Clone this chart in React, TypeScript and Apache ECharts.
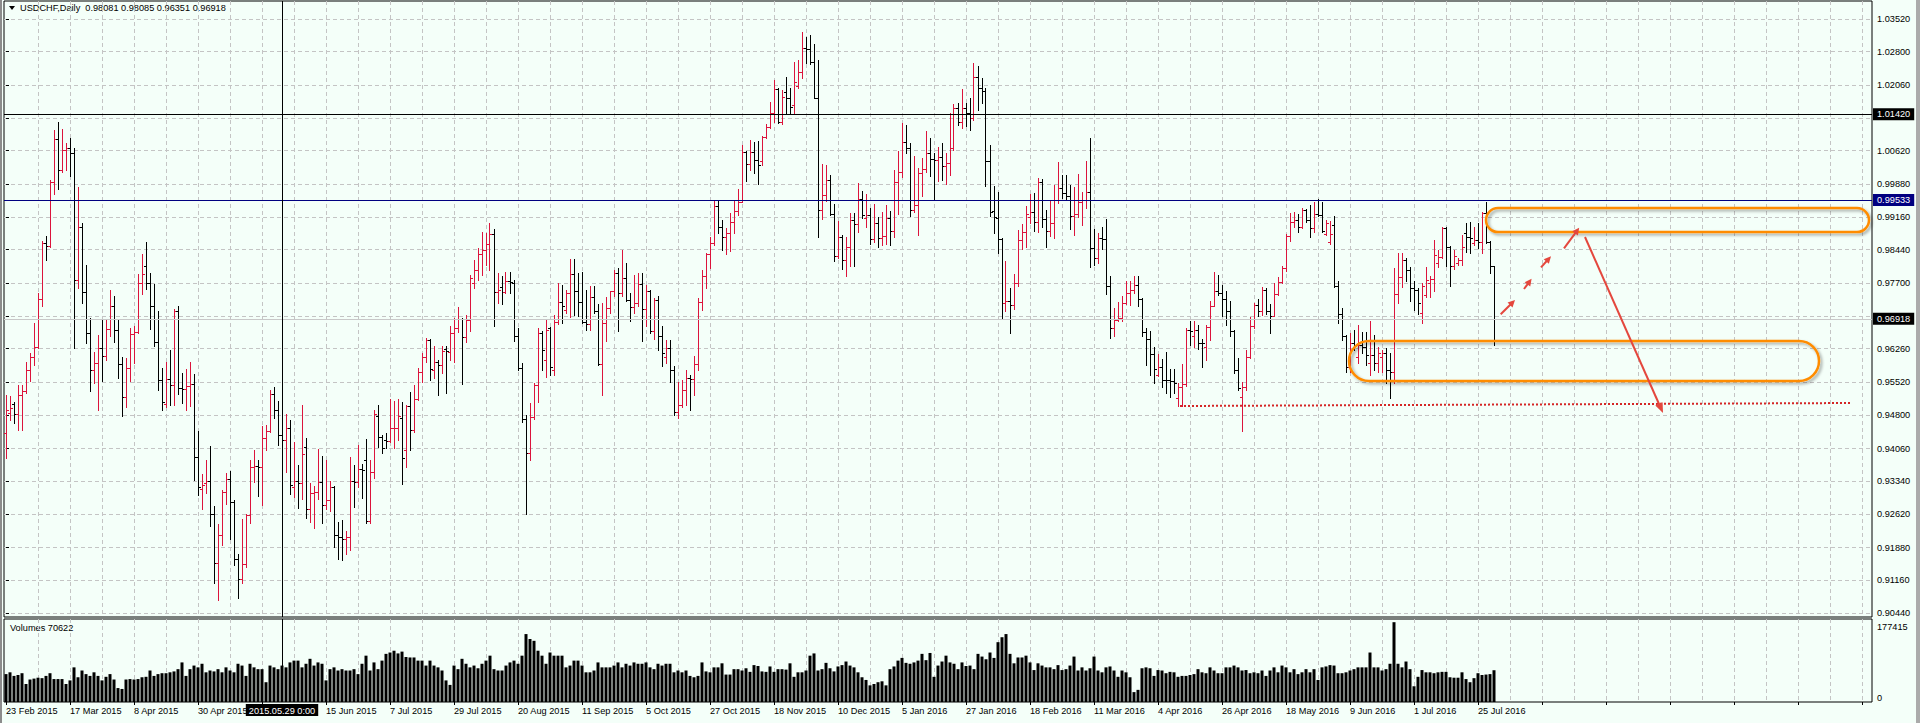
import React, { useEffect, useRef } from 'react';
import * as echarts from 'echarts';

const SYMBOL = 'USDCHF';
const PERIOD = 'Daily';

const OPEN = [
0.9440,0.9484,0.9504,0.9482,0.9524,0.9532,0.9579,0.9608,0.9629,0.9735,
0.9859,0.9853,0.9993,1.0087,1.0019,1.0064,1.0069,1.0058,0.9777,0.9893,
0.9750,0.9660,0.9578,0.9594,0.9627,0.9611,0.9669,0.9719,0.9667,0.9592,
0.9520,0.9583,0.9658,0.9662,0.9770,0.9808,0.9771,0.9719,0.9640,0.9556,
0.9504,0.9559,0.9545,0.9710,0.9539,0.9538,0.9544,0.9548,0.9388,0.9318,
0.9330,0.9335,0.9261,0.9155,0.9216,0.9311,0.9338,0.9288,0.9162,0.9118,
0.9153,0.9260,0.9366,0.9368,0.9366,0.9430,0.9445,0.9526,0.9490,0.9435,
0.9425,0.9452,0.9322,0.9335,0.9331,0.9410,0.9272,0.9308,0.9311,0.9332,
0.9282,0.9293,0.9321,0.9216,0.9212,0.9208,0.9212,0.9335,0.9333,0.9362,
0.9381,0.9247,0.9354,0.9478,0.9432,0.9425,0.9423,0.9451,0.9452,0.9473,
0.9404,0.9500,0.9446,0.9515,0.9575,0.9608,0.9645,0.9578,0.9596,0.9589,
0.9625,0.9619,0.9660,0.9671,0.9691,0.9652,0.9689,0.9770,0.9800,0.9834,
0.9844,0.9856,0.9878,0.9750,0.9761,0.9751,0.9775,0.9770,0.9653,0.9583,
0.9472,0.9396,0.9476,0.9546,0.9660,0.9601,0.9671,0.9579,0.9685,0.9729,
0.9711,0.9748,0.9790,0.9752,0.9729,0.9685,0.9680,0.9740,0.9708,0.9592,
0.9682,0.9715,0.9752,0.9793,0.9748,0.9781,0.9733,0.9717,0.9727,0.9768,
0.9713,0.9754,0.9664,0.9733,0.9654,0.9608,0.9627,0.9578,0.9487,0.9502,
0.9534,0.9561,0.9559,0.9592,0.9729,0.9785,0.9834,0.9858,0.9940,0.9893,
0.9873,0.9880,0.9906,0.9930,0.9950,1.0060,1.0033,1.0060,1.0042,1.0039,
1.0093,1.0115,1.0144,1.0198,1.0125,1.0192,1.0177,1.0163,1.0205,1.0235,
1.0289,1.0286,1.0257,1.0179,0.9931,0.9965,0.9998,0.9922,0.9831,0.9871,
0.9821,0.9849,0.9909,0.9900,0.9955,0.9913,0.9920,0.9867,0.9902,0.9869,
0.9874,0.9913,0.9885,0.9994,1.0016,1.0082,1.0069,0.9931,0.9942,1.0012,
1.0022,1.0056,1.0044,1.0041,1.0049,1.0029,1.0034,1.0069,1.0157,1.0125,
1.0157,1.0146,1.0135,1.0225,1.0201,1.0193,1.0039,0.9929,0.9913,0.9867,
0.9726,0.9732,0.9722,0.9771,0.9865,0.9884,0.9917,0.9926,0.9906,0.9992,
0.9911,0.9885,0.9902,0.9953,0.9979,0.9968,0.9962,0.9918,0.9922,0.9950,
0.9954,0.9970,0.9847,0.9825,0.9869,0.9867,0.9765,0.9672,0.9689,0.9693,
0.9726,0.9749,0.9755,0.9766,0.9735,0.9662,0.9647,0.9614,0.9568,0.9585,
0.9557,0.9556,0.9555,0.9517,0.9541,0.9548,0.9667,0.9653,0.9667,0.9639,
0.9630,0.9674,0.9721,0.9752,0.9748,0.9735,0.9709,0.9664,0.9578,0.9520,
0.9541,0.9608,0.9676,0.9722,0.9708,0.9755,0.9708,0.9699,0.9746,0.9772,
0.9803,0.9874,0.9904,0.9909,0.9893,0.9931,0.9909,0.9891,0.9922,0.9920,
0.9879,0.9862,0.9898,0.9763,0.9702,0.9653,0.9586,0.9638,0.9608,0.9634,
0.9630,0.9594,0.9612,0.9595,0.9608,0.9617,0.9579,0.9575,0.9746,0.9783,
0.9821,0.9799,0.9759,0.9755,0.9704,0.9744,0.9770,0.9779,0.9814,0.9827,
0.9891,0.9849,0.9807,0.9814,0.9822,0.9880,0.9871,0.9858,0.9865,0.9860,
0.9924,0.9860,0.98081,
];

const HIGH = [
0.9524,0.9522,0.9509,0.9546,0.9546,0.9597,0.9616,0.9682,0.9748,0.9864,
0.9874,0.9997,1.0108,1.0125,1.0109,1.0080,1.0089,1.0067,0.9981,0.9902,
0.9810,0.9693,0.9618,0.9656,0.9691,0.9689,0.9755,0.9742,0.9689,0.9607,
0.9606,0.9671,0.9675,0.9790,0.9835,0.9861,0.9793,0.9768,0.9709,0.9584,
0.9596,0.9623,0.9713,0.9719,0.9572,0.9581,0.9596,0.9570,0.9445,0.9349,
0.9382,0.9412,0.9280,0.9241,0.9315,0.9352,0.9357,0.9293,0.9175,0.9252,
0.9261,0.9382,0.9403,0.9381,0.9456,0.9457,0.9535,0.9541,0.9511,0.9478,
0.9482,0.9468,0.9420,0.9370,0.9502,0.9429,0.9331,0.9324,0.9405,0.9390,
0.9382,0.9335,0.9324,0.9245,0.9249,0.9225,0.9388,0.9370,0.9414,0.9372,
0.9427,0.9381,0.9490,0.9502,0.9436,0.9440,0.9515,0.9511,0.9515,0.9509,
0.9502,0.9530,0.9546,0.9583,0.9616,0.9650,0.9647,0.9632,0.9601,0.9632,
0.9633,0.9675,0.9693,0.9717,0.9693,0.9700,0.9788,0.9821,0.9848,0.9882,
0.9880,0.9902,0.9889,0.9793,0.9786,0.9795,0.9795,0.9777,0.9671,0.9595,
0.9480,0.9506,0.9551,0.9671,0.9664,0.9689,0.9673,0.9700,0.9770,0.9767,
0.9755,0.9823,0.9823,0.9793,0.9794,0.9755,0.9763,0.9763,0.9724,0.9726,
0.9739,0.9753,0.9799,0.9804,0.9843,0.9814,0.9748,0.9788,0.9792,0.9792,
0.9766,0.9755,0.9737,0.9741,0.9675,0.9645,0.9645,0.9587,0.9553,0.9557,
0.9578,0.9568,0.9610,0.9738,0.9799,0.9837,0.9871,0.9953,0.9953,0.9909,
0.9891,0.9924,0.9953,0.9977,1.0075,1.0061,1.0086,1.0082,1.0083,1.0095,
1.0120,1.0170,1.0218,1.0201,1.0196,1.0224,1.0199,1.0258,1.0262,1.0324,
1.0313,1.0317,1.0298,1.0262,1.0033,1.0031,1.0009,0.9944,0.9907,0.9876,
0.9871,0.9924,0.9924,0.9990,0.9974,0.9967,0.9935,0.9944,0.9915,0.9928,
0.9942,0.9929,1.0020,1.0061,1.0122,1.0119,1.0078,1.0050,1.0023,1.0045,
1.0105,1.0089,1.0058,1.0071,1.0080,1.0056,1.0144,1.0164,1.0166,1.0197,
1.0166,1.0177,1.0254,1.0249,1.0221,1.0199,1.0075,0.9984,0.9972,0.9869,
0.9819,0.9759,0.9791,0.9887,0.9901,0.9940,0.9967,0.9968,1.0001,1.0000,
0.9931,0.9953,0.9986,1.0036,1.0009,1.0009,0.9986,0.9983,1.0011,0.9970,
1.0039,1.0090,0.9890,0.9880,0.9895,0.9912,0.9786,0.9715,0.9728,0.9741,
0.9774,0.9774,0.9786,0.9785,0.9737,0.9671,0.9664,0.9630,0.9614,0.9603,
0.9619,0.9581,0.9581,0.9550,0.9592,0.9671,0.9686,0.9688,0.9678,0.9648,
0.9678,0.9731,0.9794,0.9788,0.9766,0.9752,0.9731,0.9667,0.9605,0.9553,
0.9623,0.9696,0.9727,0.9735,0.9761,0.9759,0.9725,0.9770,0.9783,0.9807,
0.9878,0.9924,0.9926,0.9922,0.9935,0.9933,0.9942,0.9948,0.9955,0.9948,
0.9909,0.9908,0.9919,0.9774,0.9715,0.9657,0.9660,0.9667,0.9678,0.9663,
0.9662,0.9686,0.9657,0.9630,0.9623,0.9627,0.9616,0.9803,0.9837,0.9836,
0.9825,0.9805,0.9774,0.9759,0.9770,0.9805,0.9785,0.9865,0.9843,0.9893,
0.9895,0.9852,0.9843,0.9825,0.9876,0.9902,0.9904,0.9895,0.9902,0.9928,
0.9948,0.9864,0.98085,
];

const LOW = [
0.9385,0.9469,0.9463,0.9447,0.9447,0.9528,0.9555,0.9590,0.9627,0.9719,
0.9821,0.9851,0.9966,0.9978,1.0016,1.0019,1.0006,0.9628,0.9759,0.9727,
0.9639,0.9533,0.9551,0.9490,0.9555,0.9601,0.9653,0.9641,0.9561,0.9478,
0.9498,0.9555,0.9595,0.9660,0.9746,0.9757,0.9669,0.9633,0.9535,0.9491,
0.9497,0.9502,0.9502,0.9526,0.9506,0.9490,0.9500,0.9337,0.9304,0.9274,
0.9308,0.9236,0.9111,0.9073,0.9194,0.9284,0.9208,0.9150,0.9076,0.9111,
0.9146,0.9243,0.9333,0.9302,0.9282,0.9402,0.9443,0.9473,0.9414,0.9344,
0.9355,0.9306,0.9300,0.9276,0.9295,0.9254,0.9245,0.9232,0.9296,0.9242,
0.9272,0.9269,0.9190,0.9164,0.9161,0.9175,0.9183,0.9278,0.9322,0.9298,
0.9243,0.9243,0.9341,0.9410,0.9397,0.9407,0.9420,0.9407,0.9425,0.9329,
0.9366,0.9402,0.9443,0.9513,0.9553,0.9597,0.9557,0.9561,0.9523,0.9572,
0.9528,0.9601,0.9597,0.9662,0.9548,0.9641,0.9666,0.9759,0.9777,0.9788,
0.9810,0.9799,0.9675,0.9727,0.9724,0.9749,0.9749,0.9642,0.9580,0.9465,
0.9262,0.9381,0.9472,0.9509,0.9578,0.9564,0.9568,0.9568,0.9680,0.9682,
0.9704,0.9696,0.9700,0.9698,0.9682,0.9667,0.9667,0.9704,0.9589,0.9524,
0.9642,0.9705,0.9741,0.9666,0.9742,0.9732,0.9686,0.9705,0.9720,0.9644,
0.9676,0.9660,0.9647,0.9623,0.9587,0.9594,0.9553,0.9480,0.9473,0.9498,
0.9502,0.9491,0.9524,0.9579,0.9711,0.9759,0.9803,0.9854,0.9880,0.9843,
0.9835,0.9842,0.9880,0.9920,0.9948,0.9996,1.0020,1.0012,0.9988,1.0030,
1.0089,1.0111,1.0126,1.0122,1.0120,1.0142,1.0142,1.0142,1.0199,1.0223,
1.0254,1.0252,1.0177,0.9873,0.9911,0.9951,0.9920,0.9818,0.9825,0.9801,
0.9785,0.9807,0.9809,0.9884,0.9913,0.9895,0.9856,0.9862,0.9851,0.9854,
0.9856,0.9854,0.9871,0.9922,1.0003,1.0058,0.9919,0.9928,0.9876,0.9963,
1.0016,1.0007,0.9956,0.9995,0.9998,0.9988,1.0008,1.0064,1.0119,1.0111,
1.0117,1.0108,1.0130,1.0152,1.0166,0.9985,0.9919,0.9880,0.9837,0.9693,
0.9708,0.9660,0.9713,0.9763,0.9845,0.9851,0.9902,0.9886,0.9884,0.9895,
0.9851,0.9874,0.9869,0.9946,0.9957,0.9954,0.9890,0.9876,0.9917,0.9898,
0.9935,0.9805,0.9810,0.9814,0.9845,0.9746,0.9649,0.9653,0.9686,0.9686,
0.9724,0.9722,0.9749,0.9720,0.9654,0.9590,0.9568,0.9551,0.9565,0.9541,
0.9529,0.9519,0.9528,0.9500,0.9500,0.9543,0.9634,0.9630,0.9625,0.9585,
0.9600,0.9645,0.9719,0.9744,0.9698,0.9678,0.9653,0.9573,0.9534,0.9445,
0.9535,0.9605,0.9671,0.9697,0.9700,0.9702,0.9661,0.9697,0.9744,0.9770,
0.9798,0.9863,0.9893,0.9882,0.9891,0.9906,0.9873,0.9884,0.9918,0.9884,
0.9876,0.9857,0.9761,0.9682,0.9645,0.9575,0.9575,0.9623,0.9594,0.9617,
0.9590,0.9568,0.9579,0.9574,0.9575,0.9550,0.9518,0.9550,0.9727,0.9761,
0.9776,0.9730,0.9711,0.9702,0.9683,0.9739,0.9739,0.9752,0.9806,0.9825,
0.9808,0.9763,0.9801,0.9810,0.9810,0.9840,0.9836,0.9854,0.9847,0.9836,
0.9858,0.9792,0.96351,
];

const CLOSE = [
0.9491,0.9495,0.9482,0.9524,0.9532,0.9579,0.9608,0.9629,0.9735,0.9859,
0.9853,0.9993,1.0087,1.0019,1.0064,1.0069,1.0058,0.9777,0.9893,0.9750,
0.9660,0.9578,0.9594,0.9627,0.9611,0.9669,0.9719,0.9667,0.9592,0.9520,
0.9583,0.9658,0.9662,0.9770,0.9790,0.9771,0.9719,0.9640,0.9556,0.9509,
0.9559,0.9545,0.9710,0.9539,0.9538,0.9544,0.9548,0.9388,0.9321,0.9326,
0.9335,0.9261,0.9155,0.9216,0.9311,0.9338,0.9288,0.9162,0.9118,0.9153,
0.9260,0.9366,0.9368,0.9366,0.9430,0.9445,0.9526,0.9490,0.9435,0.9425,
0.9452,0.9326,0.9335,0.9331,0.9394,0.9272,0.9308,0.9311,0.9332,0.9282,
0.9293,0.9321,0.9216,0.9212,0.9208,0.9212,0.9335,0.9333,0.9362,0.9359,
0.9247,0.9354,0.9482,0.9432,0.9407,0.9423,0.9451,0.9452,0.9478,0.9386,
0.9500,0.9446,0.9515,0.9575,0.9608,0.9645,0.9581,0.9596,0.9589,0.9621,
0.9621,0.9660,0.9671,0.9691,0.9652,0.9689,0.9781,0.9800,0.9834,0.9844,
0.9856,0.9878,0.9750,0.9755,0.9751,0.9775,0.9772,0.9653,0.9583,0.9472,
0.9396,0.9476,0.9546,0.9660,0.9624,0.9667,0.9586,0.9685,0.9729,0.9720,
0.9748,0.9790,0.9752,0.9729,0.9685,0.9680,0.9740,0.9708,0.9592,0.9682,
0.9715,0.9752,0.9793,0.9748,0.9781,0.9733,0.9717,0.9727,0.9768,0.9713,
0.9754,0.9664,0.9733,0.9654,0.9616,0.9627,0.9578,0.9487,0.9502,0.9534,
0.9561,0.9559,0.9592,0.9729,0.9785,0.9834,0.9858,0.9940,0.9893,0.9873,
0.9880,0.9906,0.9930,0.9950,1.0060,1.0033,1.0060,1.0042,1.0030,1.0093,
1.0115,1.0144,1.0198,1.0125,1.0181,1.0177,1.0159,1.0214,1.0235,1.0289,
1.0286,1.0257,1.0179,0.9931,0.9965,0.9998,0.9922,0.9831,0.9871,0.9821,
0.9849,0.9909,0.9900,0.9955,0.9920,0.9920,0.9867,0.9902,0.9869,0.9874,
0.9913,0.9885,0.9994,1.0016,1.0082,1.0069,0.9931,0.9942,1.0012,1.0022,
1.0056,1.0044,1.0041,1.0049,1.0029,1.0034,1.0069,1.0157,1.0125,1.0157,
1.0146,1.0135,1.0225,1.0201,1.0193,1.0039,0.9928,0.9915,0.9867,0.9726,
0.9732,0.9722,0.9771,0.9865,0.9884,0.9922,0.9926,0.9906,0.9992,0.9911,
0.9885,0.9902,0.9953,0.9979,0.9968,0.9962,0.9918,0.9922,0.9950,0.9954,
0.9970,0.9847,0.9825,0.9869,0.9867,0.9765,0.9672,0.9689,0.9693,0.9726,
0.9749,0.9755,0.9766,0.9735,0.9662,0.9647,0.9614,0.9581,0.9585,0.9557,
0.9556,0.9555,0.9550,0.9541,0.9548,0.9667,0.9666,0.9667,0.9639,0.9638,
0.9674,0.9721,0.9752,0.9748,0.9735,0.9709,0.9664,0.9578,0.9539,0.9541,
0.9608,0.9676,0.9722,0.9708,0.9755,0.9708,0.9699,0.9746,0.9772,0.9803,
0.9874,0.9904,0.9909,0.9893,0.9931,0.9909,0.9891,0.9922,0.9920,0.9885,
0.9902,0.9879,0.9763,0.9702,0.9653,0.9586,0.9638,0.9634,0.9634,0.9630,
0.9612,0.9612,0.9595,0.9617,0.9617,0.9579,0.9575,0.9746,0.9783,0.9821,
0.9799,0.9759,0.9755,0.9727,0.9763,0.9777,0.9779,0.9832,0.9827,0.9891,
0.9849,0.9807,0.9830,0.9822,0.9851,0.9871,0.9869,0.9865,0.9862,0.9924,
0.9860,0.9808,0.96918,
];

const VOLUME = [
62000,66000,58000,60000,64000,40000,50000,52000,54000,53000,58000,64000,51000,51000,51000,40000,48000,77000,55000,70000,62000,
58000,66000,58000,48000,56000,62000,50000,31000,29000,50000,51000,50000,51000,55000,56000,70000,58000,62000,64000,64000,
66000,68000,73000,88000,58000,73000,81000,77000,85000,66000,70000,68000,73000,66000,77000,70000,66000,85000,81000,58000,
85000,77000,73000,73000,44000,81000,77000,73000,81000,77000,88000,92000,92000,77000,85000,96000,81000,88000,85000,48000,
73000,77000,70000,73000,70000,70000,73000,62000,85000,103000,70000,88000,73000,92000,107000,110000,114000,108000,112000,100000,
99000,99000,92000,92000,81000,92000,81000,77000,70000,48000,38000,81000,73000,96000,85000,77000,81000,75000,85000,92000,
103000,73000,70000,70000,81000,88000,92000,85000,103000,151000,140000,136000,114000,103000,85000,110000,103000,103000,103000,77000,
81000,92000,92000,81000,66000,66000,70000,88000,77000,77000,77000,81000,88000,77000,85000,81000,88000,85000,85000,88000,
77000,73000,85000,81000,85000,85000,66000,70000,66000,70000,58000,55000,58000,
88000,68000,66000,77000,77000,86000,61000,61000,73000,73000,70000,
75000,67000,82000,80000,68000,67000,79000,67000,73000,73000,72000,
86000,56000,66000,66000,70000,103000,108000,70000,73000,87000,75000,
68000,79000,82000,90000,81000,77000,66000,55000,49000,37000,40000,
44000,46000,37000,73000,79000,92000,98000,87000,85000,
88000,92000,107000,93000,109000,56000,81000,90000,
103000,88000,85000,73000,88000,80000,
81000,73000,107000,101000,95000,
110000,98000,
133000,144000,151000,
107000,86000,99000,99000,103000,88000,71000,86000,81000,77000,
77000,73000,82000,71000,73000,81000,101000,70000,77000,70000,75000,
101000,70000,66000,77000,79000,70000,56000,70000,66000,55000,
22000,27000,75000,77000,75000,58000,71000,70000,64000,67000,
66000,56000,58000,58000,60000,62000,73000,66000,64000,77000,70000,
64000,64000,77000,77000,81000,77000,70000,71000,64000,66000,
64000,70000,58000,70000,77000,66000,81000,77000,66000,73000,
62000,66000,73000,66000,73000,49000,77000,79000,82000,81000,
64000,64000,66000,70000,73000,77000,77000,77000,110000,77000,
77000,70000,73000,85000,
177415,
85000,77000,90000,73000,35000,56000,71000,66000,66000,64000,66000,
67000,67000,55000,54000,54000,66000,51000,44000,53000,64000,60000,
61000,62000,70622,
];

// right-axis price labels (the MT4 scale) and the grid levels behind them
const PRICE_LABELS = [1.0352, 1.028, 1.0206, 1.0062, 0.9988, 0.9916, 0.9844, 0.977, 0.9626, 0.9552, 0.948, 0.9406, 0.9334, 0.9262, 0.9188, 0.9116, 0.9044];
const PRICE_GRID = [1.0352, 1.028, 1.0206, 1.0134, 1.0062, 0.9988, 0.9916, 0.9844, 0.977, 0.9698, 0.9626, 0.9552, 0.948, 0.9406, 0.9334, 0.9262, 0.9188, 0.9116, 0.9044];
const PRICE_MIN = 0.90352;
const PRICE_MAX = 1.03916;
const VOLUME_TOP_LABEL = 177415;
const VOLUME_MAX = 184500;

const START_DATE = [2015, 1, 23];
const SKIPPED_DAYS = ['2015-12-25', '2016-01-01'];
const MONTHS = ['Jan', 'Feb', 'Mar', 'Apr', 'May', 'Jun', 'Jul', 'Aug', 'Sep', 'Oct', 'Nov', 'Dec'];
const EMPTY_SLOTS = 94;
const LABEL_EVERY = 16;
const GRID_EVERY = 8;

const CROSS_INDEX = 69;
const CROSS_PRICE = 1.0142;
const CROSS_LABEL = '2015.05.29 0:00';
const LEVEL_PRICE = 0.99533;

// drawn objects, in [bar index, price] coordinates
const ELLIPSES = [
  [370, 0.99358, 465.75, 0.98829],
  [335.75, 0.96429, 453.25, 0.95548],
];
const DOTTED_LINE = [[293.5, 0.94998, 461.25, 0.95064]];
const MAIN_ARROW = [[394.75, 0.98719, 414.25, 0.94844]];
const SMALL_ARROWS = [
  [373.67, 0.97017, 377.25, 0.97332],
  [379.5, 0.97574, 381.4, 0.97801],
  [383.75, 0.98052, 386.25, 0.98294],
  [389.5, 0.9847, 393.3, 0.98924],
];

const UP = '#DC143C';
const DOWN = '#000000';
const BG = '#F4FFF9';
const GRID_COLOR = '#C4C4C4';
const ORANGE = '#FF8C00';
const ARROW_RED = '#E4473D';
const FONT = '"Liberation Sans", Arial, sans-serif';
const FS = 9.2;

function buildDates(n: number): string[] {
  const out: string[] = [];
  let t = Date.UTC(START_DATE[0], START_DATE[1], START_DATE[2]);
  while (out.length < n) {
    const d = new Date(t);
    const wd = d.getUTCDay();
    const iso = d.toISOString().slice(0, 10);
    if (wd !== 0 && wd !== 6 && !SKIPPED_DAYS.includes(iso)) {
      out.push(`${d.getUTCDate()} ${MONTHS[d.getUTCMonth()]} ${d.getUTCFullYear()}`);
    }
    t += 86400000;
  }
  return out;
}

export default function App() {
  const ref = useRef<HTMLDivElement>(null);

  useEffect(() => {
    document.body.style.margin = '0';
    const chart = echarts.init(ref.current!, null, { renderer: 'svg' });
    const n = OPEN.length;
    const dates = buildDates(n);
    const cats = dates.concat(Array.from({ length: EMPTY_SLOTS }, (_, i) => `#${i}`));
    const total = cats.length;
    const vgrid: number[] = [];
    for (let v = GRID_EVERY; v < total; v += GRID_EVERY) vgrid.push(v);
    const last = n - 1;

    const ohlcData = OPEN.map((o, i) => [i, o, HIGH[i], LOW[i], CLOSE[i]]);

    const ohlcRender = (_p: any, api: any) => {
      const i = api.value(0);
      const o = api.value(1), h = api.value(2), l = api.value(3), c = api.value(4);
      const pH = api.coord([i, h]);
      const pL = api.coord([i, l]);
      const pO = api.coord([i, o]);
      const pC = api.coord([i, c]);
      const x = Math.floor(pH[0]) + 0.5;
      const yo = Math.round(pO[1]) + 0.5;
      const yc = Math.round(pC[1]) + 0.5;
      const color = c > o ? UP : DOWN;
      const style = { stroke: color, lineWidth: 1 };
      return {
        type: 'group',
        children: [
          { type: 'line', shape: { x1: x, y1: Math.round(pH[1]), x2: x, y2: Math.round(pL[1]) + 1 }, style },
          { type: 'line', shape: { x1: x - 2.5, y1: yo, x2: x, y2: yo }, style },
          { type: 'line', shape: { x1: x, y1: yc, x2: x + 2.5, y2: yc }, style },
        ],
      };
    };

    const ellipseRender = (_p: any, api: any) => {
      const a = api.coord([api.value(0), api.value(1)]);
      const b = api.coord([api.value(2), api.value(3)]);
      const h = b[1] - a[1];
      return {
        type: 'rect',
        shape: { x: a[0], y: a[1], width: b[0] - a[0], height: h, r: h / 2 },
        style: {
          fill: 'none', stroke: ORANGE, lineWidth: 2.5,
          shadowBlur: 3, shadowColor: 'rgba(0,0,0,0.35)', shadowOffsetX: 2, shadowOffsetY: 2,
        },
      };
    };

    const arrowRender = (headLen: number, headW: number) => (_p: any, api: any) => {
      const p1 = api.coord([api.value(0), api.value(1)]);
      const p2 = api.coord([api.value(2), api.value(3)]);
      const dx = p2[0] - p1[0], dy = p2[1] - p1[1];
      const len = Math.hypot(dx, dy) || 1;
      const ux = dx / len, uy = dy / len;
      const nx = -uy, ny = ux;
      const bx = p2[0] - ux * headLen, by = p2[1] - uy * headLen;
      return {
        type: 'group',
        children: [
          { type: 'line', shape: { x1: p1[0], y1: p1[1], x2: bx + ux, y2: by + uy }, style: { stroke: ARROW_RED, lineWidth: 2 } },
          { type: 'polygon', shape: { points: [[p2[0], p2[1]], [bx + nx * headW, by + ny * headW], [bx - nx * headW, by - ny * headW]] }, style: { fill: ARROW_RED } },
        ],
      };
    };

    const dottedRender = (_p: any, api: any) => {
      const p1 = api.coord([api.value(0), api.value(1)]);
      const p2 = api.coord([api.value(2), api.value(3)]);
      return {
        type: 'line',
        shape: { x1: p1[0], y1: p1[1], x2: p2[0], y2: p2[1] },
        style: { stroke: '#D42525', lineWidth: 2, lineDash: [2, 2] },
      };
    };

    const boxLabel = (bg: string, text: string) => ({
      show: true, position: 'end', distance: 1, formatter: text,
      backgroundColor: bg, color: '#FFFFFF', padding: [2, 4, 1, 4],
      fontSize: FS, fontFamily: FONT,
    });

    const dashed = { show: true, lineStyle: { color: GRID_COLOR, width: 1, type: [4, 3] } };

    const option: any = {
      animation: false,
      backgroundColor: BG,
      textStyle: { fontFamily: FONT },
      grid: [
        { left: 4, top: 1, width: 1868, height: 616, show: true, borderColor: '#000', borderWidth: 1 },
        { left: 4, top: 619, width: 1868, height: 83, show: true, borderColor: '#000', borderWidth: 1 },
      ],
      xAxis: [
        { type: 'category', gridIndex: 0, data: cats, show: false },
        {
          type: 'category', gridIndex: 1, data: cats,
          axisLine: { show: false },
          axisTick: { show: true, interval: LABEL_EVERY - 1, alignWithLabel: true, length: 3, lineStyle: { color: '#000' } },
          axisLabel: {
            interval: LABEL_EVERY - 1, align: 'left', margin: 4, fontSize: FS, color: '#000', fontFamily: FONT,
            formatter: (_v: string, idx: number) => (idx < n && idx !== CROSS_INDEX - 5 ? dates[idx] : ''),
          },
          splitLine: { show: false },
        },
        {
          type: 'value', gridIndex: 0, min: -0.5, max: total - 0.5,
          axisLine: { show: false }, axisLabel: { show: false },
          axisTick: { show: false, customValues: vgrid }, splitLine: dashed,
        },
        {
          type: 'value', gridIndex: 1, min: -0.5, max: total - 0.5,
          axisLine: { show: false }, axisLabel: { show: false },
          axisTick: { show: false, customValues: vgrid }, splitLine: dashed,
        },
      ],
      yAxis: [
        {
          type: 'value', gridIndex: 0, position: 'right', min: PRICE_MIN, max: PRICE_MAX,
          axisLine: { show: false },
          axisTick: { show: true, length: 3, customValues: PRICE_GRID, lineStyle: { color: '#000' } },
          axisLabel: {
            customValues: PRICE_LABELS, margin: 5, fontSize: FS, color: '#000', fontFamily: FONT,
            formatter: (v: number) => v.toFixed(5),
          },
          splitLine: dashed,
        },
        {
          type: 'value', gridIndex: 1, position: 'right', min: 0, max: VOLUME_MAX,
          axisLine: { show: false }, axisTick: { show: false }, splitLine: { show: false },
          axisLabel: {
            customValues: [VOLUME_TOP_LABEL], verticalAlign: 'top', margin: 5, fontSize: FS, color: '#000', fontFamily: FONT,
            formatter: (v: number) => String(v),
          },
        },
        {
          type: 'value', gridIndex: 1, position: 'right', min: 0, max: VOLUME_MAX,
          axisLine: { show: false }, axisTick: { show: false }, splitLine: { show: false },
          axisLabel: {
            customValues: [0], verticalAlign: 'bottom', margin: 5, fontSize: FS, color: '#000', fontFamily: FONT,
            formatter: (v: number) => String(v),
          },
        },
      ],
      series: [
        {
          type: 'custom', name: 'price', xAxisIndex: 0, yAxisIndex: 0,
          data: ohlcData, encode: { x: 0, y: [1, 2, 3, 4] },
          renderItem: ohlcRender, silent: true, z: 3,
          markLine: {
            silent: true, symbol: ['none', 'none'], animation: false, precision: 6,
            data: [
              { yAxis: CROSS_PRICE, lineStyle: { color: '#000', width: 1, type: 'solid' }, label: boxLabel('#000000', CROSS_PRICE.toFixed(5)) },
              { yAxis: LEVEL_PRICE, lineStyle: { color: '#000080', width: 1, type: 'solid' }, label: boxLabel('#000080', LEVEL_PRICE.toFixed(5)) },
              { yAxis: CLOSE[last], lineStyle: { color: '#C8C8C8', width: 1, type: 'solid' }, label: boxLabel('#000000', CLOSE[last].toFixed(5)) },
              { xAxis: CROSS_INDEX, lineStyle: { color: '#000', width: 1, type: 'solid' }, label: { show: false } },
            ],
          },
        },
        {
          type: 'bar', name: 'volume', xAxisIndex: 1, yAxisIndex: 1, data: VOLUME,
          barWidth: 3, itemStyle: { color: '#000' }, silent: true,
          markLine: {
            silent: true, symbol: ['none', 'none'], animation: false,
            lineStyle: { color: '#000', width: 1, type: 'solid' },
            data: [
              {
                xAxis: CROSS_INDEX,
                label: {
                  show: true, position: 'start', distance: 2, formatter: CROSS_LABEL,
                  backgroundColor: '#000', color: '#FFFFFF', padding: [2, 3, 1, 3], fontSize: FS, fontFamily: FONT,
                },
              },
            ],
          },
        },
        {
          type: 'custom', name: 'ellipses', xAxisIndex: 2, yAxisIndex: 0, data: ELLIPSES,
          encode: { x: [0, 2], y: [1, 3] }, renderItem: ellipseRender, silent: true, z: 6,
        },
        {
          type: 'custom', name: 'dotted', xAxisIndex: 2, yAxisIndex: 0, data: DOTTED_LINE,
          encode: { x: [0, 2], y: [1, 3] }, renderItem: dottedRender, silent: true, z: 5,
        },
        {
          type: 'custom', name: 'arrow', xAxisIndex: 2, yAxisIndex: 0, data: MAIN_ARROW,
          encode: { x: [0, 2], y: [1, 3] }, renderItem: arrowRender(10, 4), silent: true, z: 7,
        },
        {
          type: 'custom', name: 'arrows', xAxisIndex: 2, yAxisIndex: 0, data: SMALL_ARROWS,
          encode: { x: [0, 2], y: [1, 3] }, renderItem: arrowRender(7, 3.5), silent: true, z: 7,
        },
      ],
      graphic: [
        { type: 'rect', left: 0, top: 0, shape: { width: 2, height: 723 }, style: { fill: '#8C8C8C' }, silent: true },
        { type: 'rect', left: 1916, top: 0, shape: { width: 4, height: 723 }, style: { fill: '#ABABAB' }, silent: true },
        { type: 'polygon', shape: { points: [[9, 6], [15, 6], [12, 10]] }, style: { fill: '#000' }, silent: true },
        {
          type: 'text', left: 20, top: 3, silent: true,
          style: {
            text: `${SYMBOL},${PERIOD}  ${OPEN[last].toFixed(5)} ${HIGH[last].toFixed(5)} ${LOW[last].toFixed(5)} ${CLOSE[last].toFixed(5)}`,
            font: `${FS}px ${FONT}`, fill: '#000',
          },
        },
        {
          type: 'text', left: 10, top: 623, silent: true,
          style: { text: `Volumes ${VOLUME[last]}`, font: `${FS}px ${FONT}`, fill: '#000' },
        },
      ],
    };

    chart.setOption(option);
    return () => chart.dispose();
  }, []);

  return <div ref={ref} style={{ width: 1920, height: 723, background: BG }} />;
}
